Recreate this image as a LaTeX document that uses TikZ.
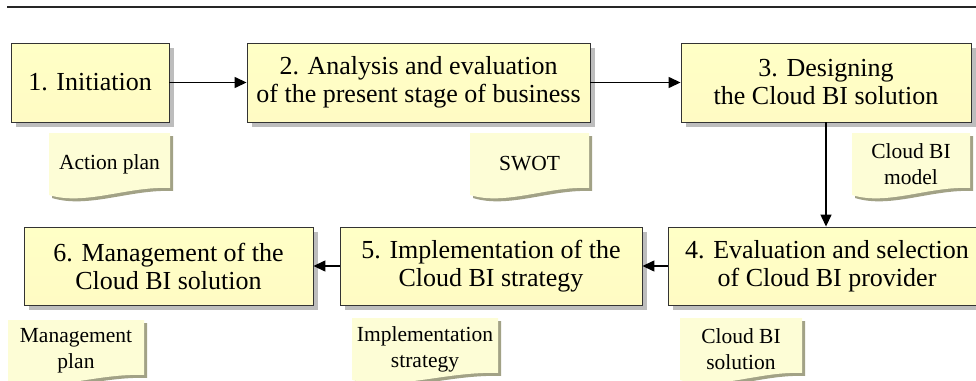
\documentclass[tikz,border=0pt]{standalone}
\usepackage{fontspec}
\setmainfont{Liberation Serif}
\usetikzlibrary{arrows.meta,shadows}

\definecolor{boxtop}{HTML}{FFFFC6}
\definecolor{boxmid}{HTML}{FFFFE2}
\definecolor{boxbot}{HTML}{FFFBC4}
\definecolor{boxshadow}{HTML}{BDBDBD}
\definecolor{notefill}{HTML}{FDFDD6}
\definecolor{noteshadow}{HTML}{A2A286}

% Document-shaped note: left x, top y, width, height
\newcommand\notepath[5][]{%
  \fill[#1] (#2,#3) -- ({#2+#4},#3) -- ({#2+#4},{#3+#5-12})
    .. controls ({#2+0.65*#4},{#3+#5-14}) and ({#2+0.3*#4},{#3+#5+6}) ..
    (#2,{#3+#5-5}) -- cycle;}
% name, left x, top y, width, height, text
\newcommand\docnote[6]{%
  \begin{scope}[shift={(3,3)}]\notepath[noteshadow]{#2}{#3}{#4}{#5}\end{scope}
  \notepath[notefill]{#2}{#3}{#4}{#5}
  \node[notetext] (#1) at ({#2+#4/2},{#3+31}) {#6};}

\begin{document}
\begin{tikzpicture}[x=1pt,y=-1pt,
  stage/.style={draw=black!80, line width=0.9pt,
    top color=boxtop, middle color=boxmid, bottom color=boxbot,
    inner sep=0pt, align=center, font=\fontsize{26}{28}\selectfont,
    drop shadow={shadow xshift=5pt,shadow yshift=-5pt,fill=boxshadow,opacity=1}},
  flow/.style={line width=1.4pt, -{Triangle[length=12pt,width=11pt]}},
  notetext/.style={inner sep=0pt, align=center, font=\fontsize{21.5}{26}\selectfont}]

\clip (0,0) rectangle (976,380);

% header rule
\draw[line width=1.6pt, black!85] (7,7) -- (976,7);

% process stages
\node[stage, minimum width=158pt, minimum height=79pt] (b1) at (90,82.5) {1. Initiation};
\node[stage, minimum width=343pt, minimum height=79pt] (b2) at (418.5,82.5)
  {2. Analysis and evaluation\\of the present stage of business};
\node[stage, minimum width=290pt, minimum height=79pt] (b3) at (826,82.5)
  {3. Designing\\the Cloud BI solution};
\node[stage, minimum width=318pt, minimum height=78pt] (b4) at (827,266)
  {4. Evaluation and selection\\of Cloud BI provider};
\node[stage, minimum width=302pt, minimum height=78pt] (b5) at (491,266)
  {5. Implementation of the\\Cloud BI strategy};
\node[stage, minimum width=289pt, minimum height=78pt] (b6) at (168.5,266)
  {6. Management of the\\Cloud BI solution};

% flow between stages
\draw[flow] (b1) -- (b2);
\draw[flow] (b2) -- (b3);
\draw[flow] (b3.south) -- (b3.south |- b4.north);
\draw[flow] (b4) -- (b5);
\draw[flow] (b5) -- (b6);

% deliverables
\docnote{n1}{49}{133}{121}{67}{Action plan}
\docnote{n2}{470}{133}{119}{67}{SWOT}
\docnote{n3}{852}{133}{118}{67}{Cloud BI\\model}
\docnote{n4}{680}{318}{122}{67}{Cloud BI\\solution}
\docnote{n5}{352}{318}{146}{67}{Implementation\\strategy}
\docnote{n6}{8}{320}{136}{67}{Management\\plan}

\end{tikzpicture}
\end{document}
